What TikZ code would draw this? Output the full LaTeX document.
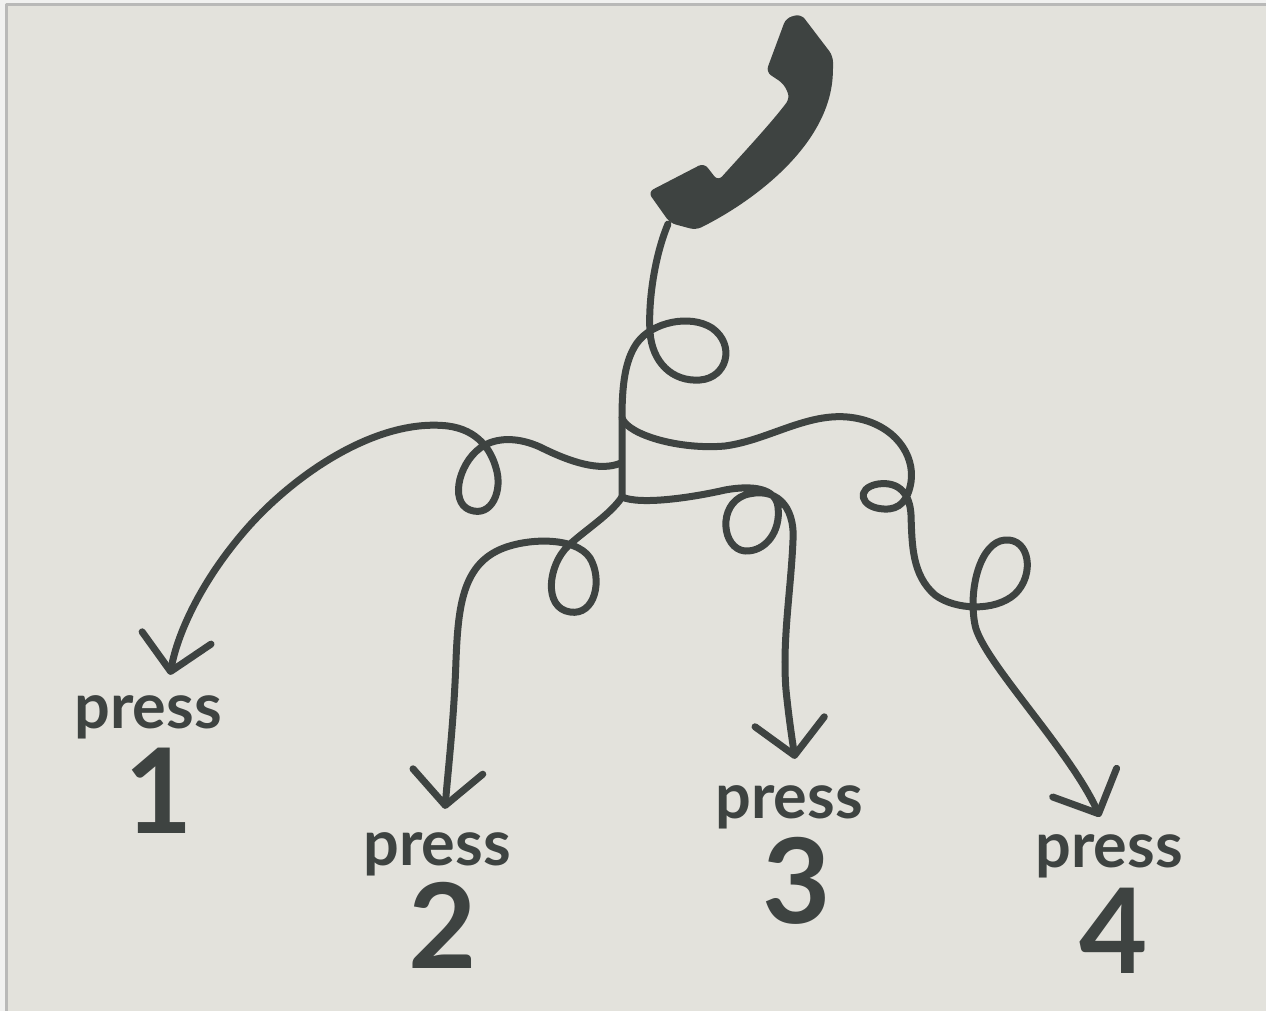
\documentclass[tikz,border=0pt]{standalone}
\usepackage{fontspec}
\setmainfont{Lato}
\usetikzlibrary{arrows.meta}
\definecolor{paper}{rgb}{0.890,0.886,0.863}
\definecolor{margin}{rgb}{0.945,0.945,0.940}
\definecolor{edgegrey}{rgb}{0.725,0.725,0.720}
\definecolor{ink}{rgb}{0.243,0.263,0.255}

\begin{document}
\begin{tikzpicture}[line cap=round,line join=round,x=1pt,y=-1pt,
	cord/.style={draw=ink,line width=7pt},
	pointer/.style={-{Straight Barb[length=34pt,width=70pt,round]}},
	presstext/.style={text=ink,anchor=base,inner sep=0pt,font=\fontsize{63}{63}\selectfont\bfseries},
	numtext/.style={text=ink,anchor=base,inner sep=0pt,font=\fontsize{118}{118}\selectfont\bfseries}]
	\useasboundingbox (0,0) rectangle (1266,1011);
	\fill[margin] (0,0) rectangle (1266,1011);
	\fill[paper] (6,5) rectangle (1266,1011);
	\draw[edgegrey,line width=3pt,line cap=butt] (6,1011) -- (6,5) -- (1266,5);
	% handset
	\fill[ink,rounded corners=6pt] (786,18) -- (801,14) -- (833,56) -- (833,74) .. controls (826,146) and (756,200) .. (696,230) -- (670,223) -- (648,192) -- (704,163) -- (718,181) .. controls (746,150) and (772,122) .. (790,98) -- (784,84) -- (766,72) -- cycle;
	\coordinate (cordtop) at (668,224);
	\coordinate (fork) at (622,418);
	\coordinate (join) at (621,463);
	\coordinate (hub) at (622,497);
	% labels
	\node[presstext] (press1) at (148,728) {press};
	\node[numtext] (num1) at (159,833) {1};
	\node[presstext] (press2) at (437,865) {press};
	\node[numtext] (num2) at (443,968) {2};
	\node[presstext] (press3) at (789,818) {press};
	\node[numtext] (num3) at (797,923) {3};
	\node[presstext] (press4) at (1109,867) {press};
	\node[numtext] (num4) at (1114,973) {4};
	% cord
	\draw[cord] (cordtop) .. controls (655,255) and (648,300) .. (650,332) .. controls (652,362) and (672,382) .. (700,380) .. controls (727,378) and (736,345) .. (712,328) .. controls (690,314) and (652,322) .. (637,343) .. controls (625,360) and (622,385) .. (fork) -- (hub);
	\draw[cord,pointer] (join) .. controls (600,472) and (570,462) .. (540,447) .. controls (520,438) and (500,437) .. (485,445) .. controls (460,458) and (448,502) .. (470,510) .. controls (492,518) and (503,490) .. (496,468) .. controls (491,450) and (478,430) .. (448,426) .. controls (380,418) and (300,470) .. (250,525) .. controls (205,575) and (178,630) .. ([shift={(22,-20)}]press1.north);
	\draw[cord,pointer] (hub) .. controls (610,515) and (585,530) .. (568,546) .. controls (548,565) and (543,608) .. (570,612) .. controls (595,616) and (603,580) .. (590,558) .. controls (575,535) and (520,538) .. (495,552) .. controls (462,570) and (458,610) .. (456,660) .. controls (454,720) and (448,770) .. ([shift={(8,-23)}]press2.north);
	\draw[cord,pointer] (hub) .. controls (640,505) and (690,498) .. (725,490) .. controls (752,485) and (776,488) .. (778,507) .. controls (781,532) and (765,552) .. (745,551) .. controls (722,549) and (717,505) .. (745,495) .. controls (775,486) and (795,505) .. (793,540) .. controls (791,590) and (782,640) .. (786,690) .. controls (789,720) and (793,745) .. ([shift={(6,-26)}]press3.north);
	\draw[cord,pointer] (fork) .. controls (628,435) and (680,450) .. (725,446) .. controls (770,440) and (810,410) .. (855,418) .. controls (895,425) and (915,455) .. (911,482) .. controls (908,500) and (900,510) .. (884,509) .. controls (860,508) and (855,488) .. (878,484) .. controls (900,481) and (910,495) .. (911,515) .. controls (912,545) and (912,575) .. (935,595) .. controls (955,610) and (995,612) .. (1015,594) .. controls (1035,575) and (1030,538) .. (1005,540) .. controls (980,542) and (968,590) .. (975,625) .. controls (982,660) and (1070,750) .. ([shift={(-9,-17)}]press4.north);
\end{tikzpicture}
\end{document}
